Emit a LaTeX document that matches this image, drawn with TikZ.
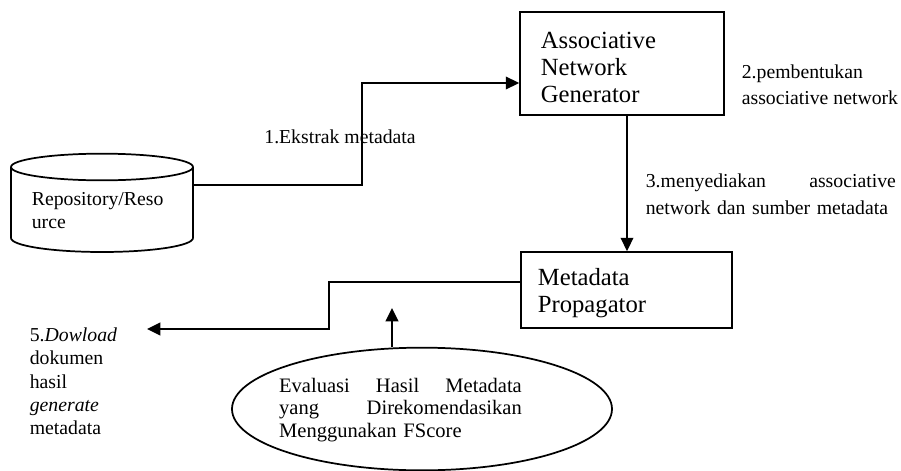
\documentclass[tikz,border=0pt]{standalone}
\usepackage{fontspec}
\setmainfont{Liberation Serif}
\usetikzlibrary{shapes.geometric,arrows.meta}
\begin{document}
\begin{tikzpicture}[x=0.75pt,y=-0.75pt,
  line width=1.3pt,
  arr/.style={-{Triangle[length=10pt,width=9.5pt]}},
  box/.style={draw, rectangle, inner sep=0pt},
  boxtext/.style={anchor=west, inner sep=0pt, align=left, font=\fontsize{18.5pt}{20.25pt}\selectfont},
  lbl/.style={inner sep=0pt, align=left, font=\fontsize{14.8pt}{19.5pt}\selectfont}]
\useasboundingbox (0,0) rectangle (901,471);

% boxes
\node[box, minimum width=153pt, minimum height=77.25pt] (ang) at (622,63.5) {};
\node[boxtext] (angt) at (540,67.5) {Associative\\Network\\Generator};
\node[box, minimum width=158.25pt, minimum height=57pt] (meta) at (626.5,290) {};
\node[boxtext] (metat) at (537,293) {Metadata\\Propagator};

% cylinder
\draw (102,167) ellipse [x radius=68.25pt, y radius=10pt];
\draw (11,167) -- (11,238) arc[start angle=180, end angle=360, x radius=68.25pt, y radius=10.5pt] -- (193,167);
\node[lbl, anchor=west, font=\fontsize{14.8pt}{17.25pt}\selectfont] (repot) at (31,210.5) {Repository/Reso\\urce};
\coordinate (repo) at (193,185);

% ellipse
\node[draw, ellipse, minimum width=285pt, minimum height=92pt, inner sep=0pt] (ev) at (422,409) {};
\node[inner sep=0pt, text width=182pt, align=left, font=\fontsize{15.4pt}{16.9pt}\selectfont] (evt) at (400.5,410)
  {Evaluasi\hfill Hasil\hfill Metadata\\yang\hfill Direkomendasikan\\Menggunakan FScore};

% connectors
\coordinate (k1) at (362,83);
\draw[arr] (repo) -| (k1) -- (ang.west |- k1);
\coordinate (v) at (627,0);
\draw[arr] (ang.south -| v) -- (meta.north -| v);
\coordinate (k2) at (329,282);
\coordinate (dl) at (147,329);
\draw[arr] (meta.west |- k2) -- (k2) |- (dl);
\coordinate (up) at (392,308);
\draw[arr] (ev.north -| up) -- (up);

% labels
\node[lbl] (l1) at (340,137) {1.Ekstrak metadata};
\node[lbl, anchor=west] (l2) at (741,85) {2.pembentukan\\associative network};
\node[lbl, anchor=west, text width=187.5pt, font=\fontsize{14.8pt}{20.25pt}\selectfont] (l3) at (645,194.5)
  {3.menyediakan\hfill associative\\network dan sumber metadata};
\node[lbl, anchor=west, font=\fontsize{14.8pt}{17.5pt}\selectfont] (l5) at (29,381.5)
  {5.\textit{Dowload}\\dokumen\\hasil\\\textit{generate}\\metadata};
\end{tikzpicture}
\end{document}
